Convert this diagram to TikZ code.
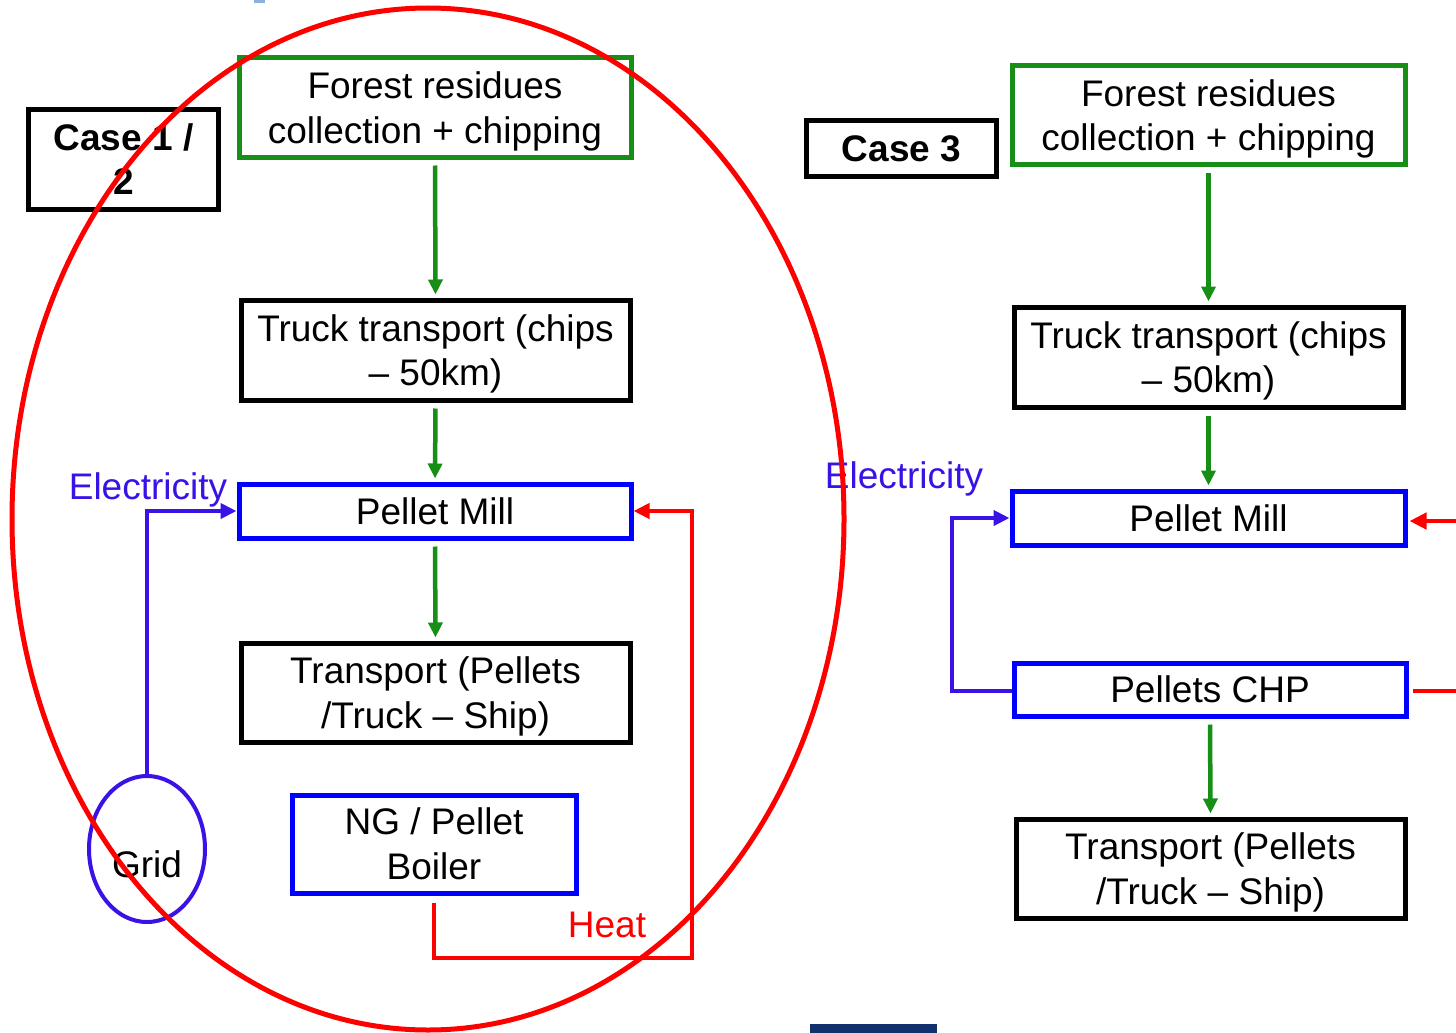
\documentclass[tikz,border=0pt]{standalone}
\usepackage{fontspec}
\setmainfont{Liberation Sans}
\usetikzlibrary{arrows.meta,shapes.geometric}
\definecolor{fgreen}{HTML}{178F17}
\definecolor{fblue}{HTML}{0000FF}
\definecolor{elec}{HTML}{3A12E6}
\definecolor{fred}{HTML}{FF0000}
\definecolor{navy}{HTML}{13306E}
\begin{document}
\begin{tikzpicture}[x=1pt,y=-1pt,
  box/.style={draw, line width=5pt, inner sep=0pt, align=center,
    font=\fontsize{37}{44.5}\selectfont},
  two/.style={text depth=0pt},
  gbox/.style={box, draw=fgreen},
  kbox/.style={box, draw=black},
  bbox/.style={box, draw=fblue},
  garrow/.style={draw=fgreen, line width=4.5pt, -{Triangle[length=15pt,width=14pt]}, shorten <=6pt, shorten >=3pt},
  elecline/.style={draw=elec, line width=4.5pt},
  heatline/.style={draw=fred, line width=4.5pt},
  lbl/.style={inner sep=0pt, font=\fontsize{37}{44.5}\selectfont}
]
\useasboundingbox (0,0) rectangle (1456,1033);
\fill[white] (0,0) rectangle (1456,1033);
\fill[fill={rgb,255:red,140;green,176;blue,216}] (254,0) rectangle (265,3);
\fill[navy] (810,1024) rectangle (937,1033);

% ---- Left: Case 1 / 2
\node[kbox, minimum width=190pt, minimum height=100pt, font=\fontsize{37}{44.5}\selectfont\bfseries] (case12) at (123.5,159) {Case 1 /\\2};
\node[gbox, two, minimum width=392pt, minimum height=99pt] (fr1) at (435,107.5) {Forest residues\\collection + chipping};
\node[kbox, two, minimum width=389pt, minimum height=100pt] (tt1) at (435.5,350) {Truck transport (chips\\– 50km)};
\node[bbox, minimum width=392pt, minimum height=54pt] (pm1) at (435,511) {Pellet Mill};
\node[kbox, two, minimum width=389pt, minimum height=99pt] (tp1) at (435.5,692.5) {Transport (Pellets\\/Truck – Ship)};
\node[bbox, minimum width=284pt, minimum height=98pt] (boiler) at (434,844) {NG / Pellet\\Boiler};
\node[draw=elec, line width=4pt, ellipse, minimum width=116pt, minimum height=146pt, inner sep=0pt] (grid) at (147,849) {};
\node[lbl] (gridtxt) at (147,864) {Grid};

\draw[garrow] (fr1.south) -- (tt1.north);
\draw[garrow] (tt1.south) -- (pm1.north);
\draw[garrow] (pm1.south) -- (tp1.north);

\node[lbl, text=elec] (el1) at (148,490) {Electricity};
\draw[elecline, -{Triangle[length=16pt,width=15pt]}] (grid.north) |- (pm1.west);

\coordinate (h1) at (692,958);
\draw[heatline, -{Triangle[length=16pt,width=15pt]}, shorten <=7pt] (boiler.south) |- (h1) |- (pm1.east);
\node[lbl, text=fred] (heat) at (607,925) {Heat};

% ---- Right: Case 3
\node[kbox, minimum width=190pt, minimum height=56pt, font=\fontsize{37}{44.5}\selectfont\bfseries] (case3) at (901.5,148.5) {Case 3};
\node[gbox, two, minimum width=393pt, minimum height=99pt] (fr3) at (1208.5,115) {Forest residues\\collection + chipping};
\node[kbox, two, minimum width=389pt, minimum height=100pt] (tt3) at (1208.5,357) {Truck transport (chips\\– 50km)};
\node[bbox, minimum width=393pt, minimum height=54pt] (pm3) at (1208.5,518) {Pellet Mill};
\node[bbox, minimum width=392pt, minimum height=53pt] (chp) at (1210,689.5) {Pellets CHP};
\node[kbox, two, minimum width=389pt, minimum height=99pt] (tp3) at (1210.5,868.5) {Transport (Pellets\\/Truck – Ship)};

\draw[garrow] (fr3.south) -- (tt3.north);
\draw[garrow] (tt3.south) -- (pm3.north);
\draw[garrow] (chp.south) -- (tp3.north);

\node[lbl, text=elec] (el3) at (904,479) {Electricity};
\coordinate (e3) at (952,691);
\draw[elecline, -{Triangle[length=16pt,width=15pt]}] (chp.west |- e3) -- (e3) |- (pm3.west);

\coordinate (r1) at (1460,521);
\coordinate (r2) at (1460,691);
\draw[heatline, -{Triangle[length=17pt,width=16pt]}, shorten >=2pt] (r1) -- (pm3.east |- r1);
\draw[heatline, shorten <=4pt] (chp.east |- r2) -- (r2);

% ---- Big red ellipse
\draw[fred, line width=5pt] (428,519) ellipse [x radius=416, y radius=511];
\end{tikzpicture}
\end{document}
